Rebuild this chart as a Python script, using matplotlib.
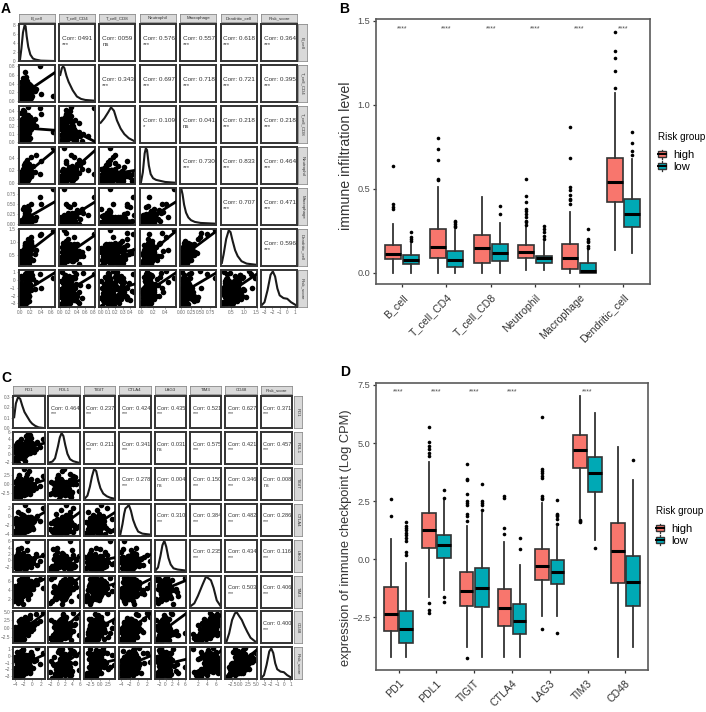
import matplotlib
matplotlib.use("Agg")
import numpy as np
import matplotlib.pyplot as plt
from matplotlib.legend_handler import HandlerBase
from matplotlib.lines import Line2D
from matplotlib.patches import Patch, Rectangle
from matplotlib.textpath import TextPath
from matplotlib.transforms import ScaledTranslation

plt.rcParams["font.family"] = ["Liberation Sans", "DejaVu Sans"]

W, H = 706, 712
DARK = "#333333"
GREY = "#4d4d4d"
HIGH = "#F8766D"
LOW = "#00A9B5"

# panel A, hand read samples: tails first, then the dense core of each cloud
imm_names = ["B_cell", "T_cell_CD4", "T_cell_CD8", "Neutrophil", "Macrophage", "Dendritic_cell", "Risk_score"]
b_cell = [.00,.02,.04,.01,.06,.03,.08,.05,.02,.10,.07,.04,.12,.09,.06,.03,.14,.11,.08,.05,.16,.13,.10,.07,.18,.15,.12,.09,.20,.06,.17,.14,.11,.22,.08,.19,.24,.13,.16,.26,.10,.21,.28,.18,.38,.30,.41,.635]
t_cd4 = [.01,.12,.05,.24,.02,.16,.08,.33,.20,.03,.27,.10,.06,.38,.14,.44,.02,.22,.30,.09,.12,.35,.18,.48,.05,.26,.41,.13,.20,.52,.08,.31,.55,.15,.24,.37,.11,.45,.19,.28,.67,.33,.22,.40,.80,.26,.15,.10]
t_cd8 = [.02,.18,.30,.08,.22,.38,.12,.03,.27,.16,.34,.06,.20,.11,.42,.25,.09,.31,.04,.18,.14,.28,.36,.07,.22,.45,.12,.19,.33,.01,.26,.15,.10,.29,.40,.05,.21,.13,.35,.24,.08,.17,.30,.11,.44,.20,.36,.12]
neutro = [.01,.06,.03,.10,.05,.14,.02,.08,.18,.04,.12,.07,.22,.09,.03,.16,.11,.25,.06,.13,.20,.08,.15,.28,.10,.05,.17,.31,.12,.22,.07,.14,.34,.19,.09,.24,.16,.37,.11,.27,.21,.42,.18,.30,.14,.45,.35,.555]
macro = [.00,.02,.05,.00,.08,.03,.12,.01,.06,.16,.02,.10,.04,.20,.07,.00,.14,.24,.03,.09,.18,.05,.28,.11,.01,.22,.32,.07,.15,.36,.04,.12,.26,.09,.41,.19,.06,.30,.44,.13,.23,.49,.10,.34,.68,.17,.51,.87]
dendri = [.13,.30,.20,.45,.25,.55,.18,.38,.65,.28,.48,.22,.72,.35,.58,.16,.42,.80,.27,.52,.62,.33,.88,.44,.20,.70,.50,.95,.36,.60,.26,.78,.46,1.02,.56,.40,.85,.66,1.10,.32,.75,1.20,.54,.92,1.28,.68,1.32,1.435]
risk_a = [-3.3,-2.6,-1.2,-3.0,-2.2,-.4,-2.8,-1.7,.5,-3.1,-2.0,-.9,-2.5,.8,-1.4,-2.9,-.2,-2.1,-1.1,-3.2,-1.8,.2,-2.4,-.7,1.0,-1.5,-2.7,.4,-1.0,-2.3,-.1,-1.9,.9,-1.3,-2.6,-.5,.6,-1.6,-2.2,.1,-.8,1.1,-1.2,-2.0,.7,-.3,-1.0,.3]

b_core = [.05,.08,.03,.11,.06,.09,.13,.04,.07,.10,.02,.12,.08,.05,.15,.09,.06,.11,.03,.14,.07,.10,.04,.13,.08,.16,.06,.11,.09,.12,.05,.15,.10,.07,.18,.13,.08,.11,.06,.17,.09,.14,.12,.20,.07,.16,.10,.13,.19,.11,.15,.08,.21,.12,.17,.14,.10,.22,.16,.13]
cd4_core = [.04,.10,.02,.14,.07,.18,.05,.22,.12,.01,.09,.16,.03,.25,.11,.06,.20,.13,.29,.08,.15,.04,.27,.10,.18,.07,.32,.12,.23,.05,.17,.09,.30,.14,.06,.21,.35,.11,.26,.08,.19,.13,.33,.16,.24,.10,.37,.20,.12,.28,.15,.34,.07,.22,.18,.31,.26,.14,.36,.23]
cd8_core = [.10,.05,.16,.22,.02,.13,.27,.08,.19,.30,.06,.14,.24,.11,.01,.17,.28,.09,.21,.04,.15,.25,.12,.07,.31,.18,.03,.23,.10,.16,.29,.13,.06,.20,.26,.09,.14,.32,.05,.18,.11,.24,.07,.15,.28,.12,.02,.19,.22,.08,.17,.10,.26,.13,.04,.21,.16,.30,.09,.14]
neu_core = [.04,.07,.02,.10,.05,.12,.03,.08,.14,.06,.09,.04,.11,.16,.07,.05,.13,.10,.18,.06,.12,.08,.15,.03,.11,.17,.09,.14,.07,.19,.10,.13,.05,.16,.12,.08,.20,.11,.15,.09,.17,.06,.13,.21,.10,.18,.14,.08,.16,.22,.12,.19,.11,.15,.20,.13,.17,.10,.21,.18]
mac_core = [.00,.03,.01,.06,.02,.09,.00,.04,.12,.01,.07,.03,.15,.00,.05,.10,.02,.18,.06,.01,.13,.04,.08,.21,.02,.11,.05,.16,.00,.09,.03,.19,.07,.12,.01,.24,.06,.14,.10,.04,.17,.08,.22,.02,.13,.05,.20,.11,.07,.26,.15,.09,.18,.03,.23,.12,.16,.06,.28,.14]
dc_core = [.25,.40,.18,.52,.30,.62,.22,.45,.72,.35,.28,.58,.20,.48,.78,.33,.42,.66,.26,.55,.38,.82,.30,.50,.68,.24,.44,.75,.36,.60,.28,.54,.88,.40,.64,.32,.47,.80,.58,.37,.70,.43,.92,.52,.34,.76,.62,.46,.84,.56,.66,.41,.96,.60,.74,.50,.86,.68,.78,.90]
risk_a_core = [-2.9,-2.2,-1.6,-2.6,-1.0,-2.4,-1.9,-.6,-2.7,-1.4,-2.1,-3.0,-1.2,-2.3,-.2,-1.7,-2.5,-.8,-2.0,-2.8,-1.3,-1.8,.1,-2.3,-1.5,-.4,-2.6,-1.1,-1.9,-2.2,-.7,-1.6,.4,-2.4,-1.0,-1.4,-2.1,-.3,-1.7,-2.7,-.9,-2.0,.2,-1.3,-1.8,-.5,-2.2,-1.1,.6,-1.5,-.6,-1.9,-1.2,-.1,-2.0,-.8,-1.4,.3,-1.0,-1.6]

imm_samples = [b_cell + b_core, t_cd4 + cd4_core, t_cd8 + cd8_core, neutro + neu_core,
               macro + mac_core, dendri + dc_core, risk_a + risk_a_core]

imm_ranges = [(0, .635), (0, .8), (0, .45), (0, .555), (0, .87), (.13, 1.435), (-3.3, 1.1)]
imm_xticks = [[0, .2, .4, .6], [0, .2, .4, .6, .8], [0, .1, .2, .3, .4], [0, .2, .4], [0, .25, .5, .75], [.5, 1, 1.5], [-3, -2, -1, 0, 1]]
imm_xlabels = [["0.0", "0.2", "0.4", "0.6"], ["0.0", "0.2", "0.4", "0.6", "0.8"], ["0.0", "0.1", "0.2", "0.3", "0.4"], ["0.0", "0.2", "0.4"], ["0.00", "0.25", "0.50", "0.75"], ["0.5", "1.0", "1.5"], ["\u22123", "\u22122", "\u22121", "0", "1"]]
imm_top_ticks = [0, 2, 4, 6, 8]
imm_corr = [
    ["0491", "0059", "0.576", "0.557", "0.618", "0.364"],
    ["0.343", "0.697", "0.718", "0.721", "0.395"],
    ["0.109", "0.041", "0.218", "0.218"],
    ["0.730", "0.833", "0.464"],
    ["0.707", "0.471"],
    ["0.596"],
]
imm_sig = [
    ["***", "ns", "***", "***", "***", "***"],
    ["***", "***", "***", "***", "***"],
    ["*", "ns", "***", "***"],
    ["***", "***", "***"],
    ["***", "***"],
    ["***"],
]
# where the fitted line leaves each lower panel on the right
imm_fit_end = [
    [.65],
    [.15, .0],
    [.52, .52, .2],
    [.55, .55, .05, .55],
    [1.4, 1.25, .7, 1.4, 1.4],
    [.9, .7, -.5, .9, .9, .7],
]
imm_dens_x = [
    [0, .03, .06, .09, .11, .13, .16, .2, .25, .3, .4, .635],
    [0, .04, .07, .1, .15, .2, .3, .4, .5, .6, .8],
    [0, .05, .1, .14, .18, .22, .27, .32, .38, .45],
    [0, .03, .06, .08, .1, .13, .16, .2, .25, .3, .4, .555],
    [0, .03, .07, .12, .18, .25, .35, .5, .87],
    [.13, .2, .3, .4, .47, .55, .65, .75, .9, 1.1, 1.435],
    [-3.3, -3, -2.6, -2.2, -1.9, -1.6, -1.3, -1, -.5, 0, .5, 1.1],
]
imm_dens_h = [
    [0, .35, .8, 1, .98, .7, .4, .18, .07, .04, .01, 0],
    [.75, .95, 1, .95, .72, .55, .3, .12, .05, .02, 0],
    [.55, .68, .85, 1, .9, .62, .38, .22, .1, .02],
    [.02, .3, .85, 1, .95, .5, .25, .13, .08, .06, .02, 0],
    [1, .85, .55, .32, .18, .1, .05, .02, 0],
    [.05, .3, .75, 1, .95, .7, .42, .25, .1, .03, 0],
    [.03, .1, .45, .9, 1, .85, .5, .3, .22, .2, .1, .02],
]

# panel C, hand read samples
chk_names = ["PD1", "PDL1", "TIGIT", "CTLA4", "LAG3", "TIM3", "CD48", "Risk_score"]
pd1_s = [-4.2,-3.9,-3.6,-4.1,-3.3,-3.8,-3.0,-3.5,-4.0,-2.8,-3.2,-3.7,-2.6,-3.4,-2.9,-2.4,-3.1,-2.2,-3.6,-2.7,-2.0,-3.0,-2.5,-1.8,-3.3,-2.3,-1.6,-2.8,-2.1,-1.4,-2.6,-1.9,-1.2,-2.2,-1.0,-1.7,-0.8,-2.4,-1.3,-0.6,-0.2,-1.0,0.3,-0.5,0.9,1.2,1.85,2.6]
pdl1_s = [-1.5,0.6,-0.6,2.3,-2.3,1.2,0.2,3.0,-1.0,1.8,-0.3,2.6,0.8,-1.3,3.6,1.4,0.1,2.1,-0.7,4.2,0.5,2.9,-0.2,1.7,3.4,0.9,-1.8,2.4,1.1,4.8,-0.4,1.9,3.2,0.3,5.7,2.2,1.0,-1.0,3.8,1.5,4.5,0.7,2.7,5.05,1.3,3.3,2.0,4.0]
tigit_s = [-2.5,-3.6,-1.0,-1.6,-2.9,0.8,-4.2,-0.4,-2.1,-3.2,1.6,-1.4,-2.6,0.2,-3.8,-0.8,2.4,-1.9,-3.0,-0.1,1.1,-2.3,-1.2,4.1,-3.4,-0.6,0.5,-1.8,-2.7,1.9,-0.2,-3.1,2.8,-1.1,-2.0,0.4,3.4,-1.5,-2.4,-0.5,1.3,-0.9,-1.7,0.0,-1.3,0.9,-0.7,2.1]
ctla4_s = [-3.4,-4.2,-2.4,-1.6,-3.0,-0.7,-3.8,-2.0,-1.0,-2.8,-4.0,-0.3,-2.2,-3.5,-1.3,-2.7,-3.2,0.3,-1.8,-3.6,-1.1,-2.5,-0.5,-3.1,1.1,-2.0,-1.5,-3.7,-0.9,-2.6,0.6,-1.9,-3.3,-1.2,-2.3,2.7,-0.6,-2.9,-1.7,-0.1,-2.1,1.4,-1.4,-2.7,-0.4,0.1,-1.0,2.0]
lag3_s = [-1.6,-0.6,-3.0,0.4,-2.4,-0.2,1.2,-1.1,-2.0,0.0,2.6,-0.8,-1.4,3.6,-2.2,0.7,-0.4,-1.8,1.7,-1.0,0.2,-2.6,3.9,-0.7,-1.3,0.9,-3.1,-0.1,2.2,-1.6,0.5,-0.9,6.1,-2.0,1.4,-0.3,-1.2,0.3,3.2,-0.5,-1.9,1.0,-0.8,0.1,2.0,-1.5,-0.2,1.6]
tim3_s = [1.7,3.0,2.2,3.8,1.2,4.5,2.6,3.4,5.0,2.0,4.1,2.9,5.4,3.6,1.6,4.7,3.2,5.8,2.4,4.3,3.7,6.2,2.8,5.2,4.0,3.1,6.5,4.6,.9,5.6,3.5,4.9,6.8,4.2,2.7,5.5,3.9,7.0,4.4,5.1,6.0,3.3,5.7,4.8,6.3,5.3,6.6,4.6]
cd48_s = [-4.2,-3.2,-3.8,-1.6,-2.8,-0.6,-3.5,-2.2,0.4,-3.0,-1.2,-2.5,0.9,-1.9,-3.6,-0.2,-2.7,1.5,-1.4,-0.8,-3.3,0.6,-2.0,2.0,-1.0,-2.4,2.5,0.1,-1.7,1.2,-0.5,3.0,-1.3,0.8,-2.1,3.5,0.2,1.8,-0.9,4.0,1.0,2.8,-0.3,3.3,4.5,1.6,2.3,4.8]
risk_c = [-3.3,-2.6,-3.0,-1.8,-2.4,-.8,-3.1,-2.1,-.2,-2.8,-1.5,-2.3,.3,-1.2,-2.9,-.5,-2.0,-1.0,-2.7,.7,-1.7,-.1,-2.5,-1.3,.5,-2.2,-.7,-1.9,1.0,-1.1,-2.6,-.4,-1.6,.9,-2.1,-.9,.2,-1.4,-2.3,-.3,.6,-1.0,-1.8,.1,-.6,1.1,-1.2,.4]

pd1_core = [-3.8,-3.2,-2.7,-3.5,-2.2,-3.0,-1.7,-3.6,-2.5,-1.2,-3.3,-2.0,-2.8,-1.5,-3.9,-2.4,-.9,-3.1,-1.9,-2.6,-1.1,-3.4,-2.1,-.6,-2.9,-1.6,-3.7,-2.3,-.4,-1.3,-3.0,-1.8,-2.6,-.8,-3.5,-2.0,-1.0,-2.8,-.2,-1.5,-3.2,-2.2,-.7,-1.9,-2.7,-1.2,0.0,-2.4,-1.7,-.5,-3.0,-1.4,-2.1,.2,-.9,-2.5,-1.1,.4,-1.8,-.3]
pdl1_core = [-.8,.4,1.4,-.2,.9,2.2,.1,1.1,2.8,.6,-.5,1.7,.3,2.4,1.0,-1.1,1.5,3.1,.7,1.9,.0,1.2,2.6,.5,1.6,-.4,2.1,.9,3.4,1.3,.2,1.8,.8,2.9,-.1,1.4,2.3,.6,1.1,3.6,.4,2.0,1.0,2.7,1.6,.7,3.0,1.2,2.2,.3,1.7,.9,2.5,1.5,3.3,1.1,2.0,.5,2.8,1.8]
tigit_core = [-2.8,-1.2,-.3,-2.2,-1.6,.2,-3.0,-.9,-2.4,-1.4,.5,-2.0,-.6,-2.7,-1.1,-.1,-1.8,-3.2,-.7,-2.3,-1.3,.8,-2.6,-.4,-1.5,-2.1,.1,-1.0,-2.9,-.5,-1.7,-.2,1.2,-2.5,-1.2,-.8,-2.0,.4,-1.4,-2.8,-.6,-1.9,-.1,-2.3,-1.0,.6,-1.5,-2.6,-.3,-1.1,-1.8,.0,-2.2,-.7,.9,-1.3,-2.4,-.4,-1.6,.3]
ctla4_core = [-3.6,-2.4,-3.0,-1.4,-2.8,-3.9,-1.8,-2.2,-3.3,-1.0,-2.6,-3.7,-1.6,-2.1,-.6,-3.1,-2.5,-1.2,-3.5,-1.9,-2.3,-.8,-3.0,-1.5,-2.7,-3.4,-1.1,-2.0,-.3,-2.9,-1.7,-3.2,-2.4,-.9,-2.1,-3.6,-1.3,-2.6,-.1,-1.9,-2.8,-1.0,-3.1,-2.2,-1.6,-.5,-2.5,-3.3,-1.2,-2.0,-.7,-2.7,-1.5,-3.0,-.2,-2.3,-1.8,-1.1,.1,-2.4]
lag3_core = [-1.4,.2,-2.1,-.5,-.9,.8,-1.7,.0,-1.2,1.2,-.3,-2.3,.5,-.8,-1.5,.3,-.1,-1.9,1.0,-.6,-1.1,.1,-2.0,.6,-.4,-1.3,1.4,-.7,.4,-1.6,-.2,.9,-1.0,-1.8,.2,-.5,1.1,-1.2,-.1,-2.2,.7,-.9,.3,-1.4,.0,1.5,-.6,-1.7,.5,-.3,-1.1,.8,-.7,.2,-1.5,1.3,-.4,.6,-1.0,.1]
tim3_core = [2.4,3.2,1.8,4.0,2.8,3.5,4.6,2.2,3.8,5.1,3.0,4.3,2.6,5.5,3.4,4.8,2.0,4.1,5.8,3.6,2.9,4.5,5.2,3.3,6.0,3.9,2.5,4.7,5.4,3.1,4.2,6.2,3.7,5.0,2.7,4.4,5.7,3.5,4.9,6.4,4.0,3.0,5.3,4.6,5.9,3.8,5.1,4.3,6.1,4.8,5.5,3.6,5.0,4.2,5.8,4.7,6.3,5.2,4.5,5.6]
cd48_core = [-3.0,-1.8,-2.4,-.9,-3.3,-1.2,-.2,-2.7,-1.5,.5,-2.1,-.6,-3.1,.1,-1.0,-2.3,.9,-1.7,-.4,-2.6,1.3,-.8,-2.0,.3,-1.4,1.7,-.1,-2.8,.7,-1.1,2.1,-1.9,-.3,1.1,-2.2,.4,-1.3,2.5,-.7,.9,-1.6,1.5,.0,-.5,2.9,-1.0,.6,1.9,-.2,1.2,2.3,.2,-.6,1.6,.8,-1.2,2.7,1.0,.1,1.4]
risk_c_core = [-2.7,-2.0,-2.4,-1.2,-2.9,-.6,-1.7,-2.2,-.2,-1.5,-2.6,-.9,-1.9,.2,-2.3,-1.3,-.5,-2.8,-1.8,-1.0,-2.1,.4,-1.5,-2.5,-.8,-1.9,-.3,-1.2,-2.4,.0,-1.6,-2.0,-.7,-1.1,.6,-2.2,-1.4,-.4,-1.8,-2.6,-1.0,.3,-1.7,-2.1,-.6,-1.3,.1,-2.0,-.9,-1.5,-.2,-1.6,-2.3,-.5,-1.1,.5,-1.9,-.7,-1.4,-.1]

chk_samples = [pd1_s + pd1_core, pdl1_s + pdl1_core, tigit_s + tigit_core, ctla4_s + ctla4_core,
               lag3_s + lag3_core, tim3_s + tim3_core, cd48_s + cd48_core, risk_c + risk_c_core]

chk_ranges = [(-4.2, 2.6), (-2.3, 5.7), (-4.2, 4.1), (-4.2, 2.7), (-3.1, 6.1), (.5, 7), (-4.2, 4.8), (-3.3, 1.1)]
chk_xticks = [[-4, -2, 0, 2], [-2, 0, 2, 4, 6], [-2.5, 0, 2.5], [-4, -2, 0, 2], [-2, 0, 2, 4, 6], [2, 4, 6], [-2.5, 0, 2.5, 5], [-3, -2, -1, 0, 1]]
chk_xlabels = [["\u22124", "\u22122", "0", "2"], ["\u22122", "0", "2", "4", "6"], ["\u22122.5", "0.0", "2.5"], ["\u22124", "\u22122", "0", "2"], ["\u22122", "0", "2", "4", "6"], ["2", "4", "6"], ["\u22122.5", "0.0", "2.5", "5.0"], ["\u22123", "\u22122", "\u22121", "0", "1"]]
chk_top_ticks = [0, .1, .2, .3]
chk_corr = [
    ["0.464", "0.237", "0.424", "0.435", "0.521", "0.627", "0.371"],
    ["0.211", "0.341", "0.031", "0.575", "0.421", "0.457"],
    ["0.278", "0.004", "0.150", "0.346", "0.008"],
    ["0.310", "0.384", "0.482", "0.286"],
    ["0.235", "0.434", "0.116"],
    ["0.503", "0.406"],
    ["0.400"],
]
chk_sig = [
    ["***"] * 7,
    ["***", "***", "ns", "***", "***", "***"],
    ["***", "ns", "***", "***", "ns"],
    ["***"] * 4,
    ["***"] * 3,
    ["***"] * 2,
    ["***"],
]
chk_fit_end = [
    [3.0],
    [1.0, 1.0],
    [1.0, 1.0, 1.0],
    [1.5, 1.0, .9, 1.8],
    [6.5, 6.8, 5.5, 6.5, 6.2],
    [4.5, 4.5, 3.0, 4.5, 4.5, 4.2],
    [.2, .5, -.6, .0, -.5, .9, .9],
]
chk_dens_x = [
    [-4.2, -3.8, -3.3, -2.8, -2.3, -1.8, -1.2, -.5, 0, .7, 1.5, 2.6],
    [-2.3, -1.5, -.8, 0, .5, 1, 1.5, 2, 2.6, 3.3, 4.2, 5.7],
    [-4.2, -3.5, -2.8, -2.2, -1.6, -1, -.4, .2, 1, 2, 3, 4.1],
    [-4.2, -3.7, -3.3, -3, -2.6, -2.2, -1.7, -1.2, -.6, 0, 1, 2.7],
    [-3.1, -2.4, -1.6, -1, -.4, .2, .9, 1.6, 2.5, 3.8, 6.1],
    [.5, 1.2, 2, 3, 3.8, 4.3, 4.9, 5.5, 6.2, 7],
    [-4.2, -3.4, -2.5, -1.6, -1, -.3, .5, 1.3, 2.2, 3.2, 4.8],
    [-3.3, -3, -2.6, -2.2, -1.9, -1.6, -1.3, -1, -.5, 0, .5, 1.1],
]
chk_dens_h = [
    [.35, .8, 1, .95, .72, .52, .38, .22, .14, .07, .02, 0],
    [.01, .04, .15, .55, .85, 1, .9, .6, .3, .12, .05, 0],
    [.01, .1, .4, .75, 1, .93, .6, .35, .17, .08, .03, 0],
    [.01, .35, .7, .88, .93, 1, .8, .5, .27, .1, .03, 0],
    [.01, .1, .5, .85, 1, .8, .42, .2, .07, .03, 0],
    [.02, .1, .35, .72, 1, .95, .88, .62, .2, .02],
    [.03, .3, .75, .98, 1, .88, .75, .55, .35, .15, .01],
    [.03, .1, .45, .9, 1, .85, .5, .3, .22, .2, .1, .02],
]

# panel B
cell_names = ["B_cell", "T_cell_CD4", "T_cell_CD8", "Neutrophil", "Macrophage", "Dendritic_cell"]
cell_high_q1 = [.08, .085, .06, .09, .024, .42]
cell_high_med = [.113, .155, .145, .125, .085, .54]
cell_high_q3 = [.165, .262, .222, .163, .172, .68]
cell_high_lo = [0, 0, 0, .015, 0, .135]
cell_high_hi = [.29, .51, .448, .27, .36, 1.067]
cell_high_out = [[.38, .39, .41, .635], [.55, .555, .67, .735, .80], [], [.285, .3, .31, .33, .35, .37, .38, .42, .455, .555], [.41, .43, .44, .46, .49, .51, .68, .87], [1.1, 1.2, 1.28, 1.32, 1.435]]
cell_low_q1 = [.05, .035, .067, .055, 0, .27]
cell_low_med = [.075, .075, .12, .085, .01, .35]
cell_low_q3 = [.105, .13, .172, .102, .055, .437]
cell_low_lo = [0, 0, 0, .015, 0, .12]
cell_low_hi = [.17, .255, .298, .185, .135, .675]
cell_low_out = [[.19, .2, .21, .245], [.27, .28, .29, .30, .31], [.35, .395], [.2, .22, .245, .26, .28], [.15, .16, .18, .19, .2, .26], [.70, .725, .77, .84]]
cell_stars = ["****"] * 6

# panel D
gene_names = ["PD1", "PDL1", "TIGIT", "CTLA4", "LAG3", "TIM3", "CD48"]
gene_high_q1 = [-3.09, .5, -2.0, -2.87, -.89, 3.92, -1.0]
gene_high_med = [-2.34, 1.24, -1.35, -2.11, -.27, 4.71, .36]
gene_high_q3 = [-1.18, 1.98, -.56, -1.29, .45, 5.36, 1.57]
gene_high_lo = [-4.2, -1.6, -3.76, -4.2, -2.43, 1.77, -4.2]
gene_high_hi = [.88, 4.17, 1.44, .76, 2.44, 7.04, 4.83]
gene_high_out = [[1.85, 2.6], [-2.3, -2.2, -1.9, 4.45, 4.55, 4.75, 4.85, 5.05, 5.7], [-4.25, 1.65, 1.85, 1.95, 2.35, 2.4, 2.5, 2.8, 3.4, 3.45, 4.1], [1.1, 1.35, 2.65, 2.7], [-3.0, 2.6, 2.65, 2.7, 3.5, 3.6, 3.7, 3.8, 3.9, 6.1], [1.6, 1.65, 1.7], []]
gene_low_q1 = [-3.62, .04, -2.04, -3.23, -1.05, 2.89, -2.01]
gene_low_med = [-3.0, .6, -1.24, -2.66, -.55, 3.72, -.98]
gene_low_q3 = [-2.23, 1.06, -.39, -1.94, -.03, 4.41, .16]
gene_low_lo = [-4.2, -1.32, -4.2, -4.2, -2.43, .83, -3.76]
gene_low_hi = [-.17, 2.55, 2.0, -.24, 1.4, 6.29, 3.39]
gene_low_out = [[.2, .3, .8, .9, 1.05, 1.15, 1.25, 1.35, 1.45, 1.6], [-1.85, -1.6, 2.65, 3.0], [2.1, 2.35, 2.4, 2.5, 3.25], [.45, .93], [-3.15, 1.5, 1.75, 1.85, 1.9, 1.95, 2.55], [.48], [4.25]]
gene_stars = ["****", "****", "****", "****", "", "****", ""]


def px_axes(fig, x0, y0, x1, y1, **kw):
    return fig.add_axes([x0 / W, 1 - y1 / H, (x1 - x0) / W, (y1 - y0) / H], **kw)


def strip(fig, x0, y0, x1, y1, label, size, rotation=0):
    ax = px_axes(fig, x0, y0, x1, y1, facecolor="#D9D9D9")
    ax.set_xticks([])
    ax.set_yticks([])
    for s in ax.spines.values():
        s.set_color("#8c8c8c")
        s.set_linewidth(0.6)
    ax.text(.5, .5, label, transform=ax.transAxes, ha="center", va="center",
            fontsize=size, color=DARK, rotation=rotation)


def padded(r, frac=.04):
    d = (r[1] - r[0]) * frac
    return r[0] - d, r[1] + d


def pairs(fig, names, samples, ranges, xticks, xlabels, top_ticks, corr, sig, fit_end, dens_x, dens_h,
          x0, dx, pw, y0, dy, ph, tick_size, corr_size, msize):
    n = len(names)
    for i in range(n):
        strip(fig, x0 + i * dx, y0 - 10, x0 + i * dx + pw, y0 - 2, names[i], 3.2)
        strip(fig, x0 + (n - 1) * dx + pw + 1.5, y0 + i * dy, x0 + (n - 1) * dx + pw + 10,
              y0 + i * dy + ph, names[i], 3.2, rotation=-90)
    for r in range(n):
        for c in range(n):
            ax = px_axes(fig, x0 + c * dx, y0 + r * dy, x0 + c * dx + pw, y0 + r * dy + ph)
            for s in ax.spines.values():
                s.set_color(DARK)
                s.set_linewidth(1.4)
            ax.set_xlim(padded(ranges[c]))
            if r == 0:
                ylo, yhi = 0, top_ticks[-1] * 1.04
            else:
                ylo, yhi = padded(ranges[r])
            ax.set_ylim(ylo, yhi)
            if r == c:
                lo = 0 if r == 0 else ranges[r][0]
                hi = top_ticks[-1] if r == 0 else ranges[r][1]
                ax.plot(dens_x[c], lo + np.array(dens_h[c]) * (hi - lo), color="#1a1a1a", lw=1.5)
            elif r > c:
                ax.scatter(samples[c], samples[r], s=msize, color="black", linewidths=0, zorder=2)
                ax.plot([np.mean(samples[c]), padded(ranges[c])[1]], [np.mean(samples[r]), fit_end[r - 1][c]],
                        color="black", lw=2, zorder=3)
            else:
                ax.text(.08, .62, "Corr: " + corr[r][c - r - 1], transform=ax.transAxes, fontsize=corr_size,
                        color=DARK, va="center", clip_on=True)
                ax.text(.08, .44, sig[r][c - r - 1], transform=ax.transAxes, fontsize=corr_size - .3,
                        color=DARK, va="center", clip_on=True)
            ax.set_xticks(xticks[c] if r == n - 1 else [])
            if r == n - 1:
                ax.set_xticklabels(xlabels[c])
            if c == 0:
                if r == 0:
                    ax.set_yticks(top_ticks)
                else:
                    ax.set_yticks(xticks[r])
                    ax.set_yticklabels(xlabels[r])
            else:
                ax.set_yticks([])
            ax.tick_params(length=1.2, width=.4, pad=.8, labelsize=tick_size, colors="#6a6a6a")


class BoxKey(HandlerBase):
    def create_artists(self, legend, orig, xd, yd, w, h, fontsize, trans):
        mid = h / 2 - yd
        whisker = Line2D([w / 2 - xd] * 2, [-yd - 1.2, h - yd + 1.2], color=DARK, lw=.9, transform=trans)
        box = Rectangle((-xd, -yd), w, h, facecolor=orig.get_facecolor(), edgecolor=DARK, lw=1, transform=trans)
        med = Line2D([-xd, w - xd], [mid, mid], color="black", lw=1.4, transform=trans)
        return [whisker, box, med]


def boxes(ax, names, hq1, hmed, hq3, hlo, hhi, hout, lq1, lmed, lq3, llo, lhi, lout, stars, star_y, legend_top):
    n = len(names)
    for off, col, q1, med, q3, lo, hi, out in [(-.2, HIGH, hq1, hmed, hq3, hlo, hhi, hout),
                                               (.2, LOW, lq1, lmed, lq3, llo, lhi, lout)]:
        stats = [dict(q1=q1[i], med=med[i], q3=q3[i], whislo=lo[i], whishi=hi[i], fliers=out[i]) for i in range(n)]
        ax.bxp(stats, positions=np.arange(n) + off, widths=.36, patch_artist=True, showcaps=False,
               boxprops=dict(facecolor=col, edgecolor=DARK, lw=1.2),
               medianprops=dict(color="black", lw=2.2),
               whiskerprops=dict(color=DARK, lw=1.3),
               flierprops=dict(marker="o", markerfacecolor="black", markeredgecolor="black", markersize=2.6, mew=0),
               manage_ticks=False)
    for i, st in enumerate(stars):
        ax.text(i, star_y, st, ha="center", va="center", fontsize=5, color=GREY)
    ax.set_xlim(-.6, n - .4)
    ax.set_xticks(np.arange(n))
    ax.set_xticklabels(names, rotation=45, ha="right", rotation_mode="anchor", fontsize=7.6, color=DARK)
    # labels sit a bit past the tick, about a third of their length
    for lab, name in zip(ax.get_xticklabels(), names):
        w = TextPath((0, 0), name, size=7.6, prop="Liberation Sans").get_extents().width
        shift = .3 * w * .707 / 72
        lab.set_transform(lab.get_transform() + ScaledTranslation(shift, shift, ax.figure.dpi_scale_trans))
    for s in ax.spines.values():
        s.set_color("#5a5a5a")
        s.set_linewidth(1.2)
    ax.tick_params(axis="both", length=2.5, width=.9, color=DARK)
    ax.tick_params(axis="y", labelsize=6.6, labelcolor=GREY, pad=1.5)
    leg = ax.legend(handles=[Patch(facecolor=HIGH, label="high"), Patch(facecolor=LOW, label="low")],
                    handler_map={Patch: BoxKey()}, title="Risk group", frameon=False, fontsize=8,
                    title_fontsize=7.1, alignment="left", handlelength=.75, handleheight=.45,
                    handletextpad=.65, labelspacing=.15, borderpad=0, borderaxespad=0,
                    loc="upper left", bbox_transform=ax.figure.transFigure,
                    bbox_to_anchor=(ax.get_position().x1 + 8 / W, 1 - legend_top / H))
    leg._legend_box.sep = 6


fig = plt.figure(figsize=(W / 100, H / 100), dpi=100)

pairs(fig, imm_names, imm_samples, imm_ranges, imm_xticks, imm_xlabels, imm_top_ticks, imm_corr, imm_sig,
      imm_fit_end, imm_dens_x, imm_dens_h, 18.5, 40.4, 36, 24, 41, 37, 3.4, 4.6, 16)
pairs(fig, chk_names, chk_samples, chk_ranges, chk_xticks, chk_xlabels, chk_top_ticks, chk_corr, chk_sig,
      chk_fit_end, chk_dens_x, chk_dens_h, 13, 35.4, 31.5, 396, 35.9, 32, 3.4, 4.1, 16)

ax_b = px_axes(fig, 375.7, 19, 650, 284)
ax_b.set_ylim(-.067, 1.51)
ax_b.set_yticks([0, .5, 1, 1.5])
ax_b.set_yticklabels(["0.0", "0.5", "1.0", "1.5"])
boxes(ax_b, cell_names, cell_high_q1, cell_high_med, cell_high_q3, cell_high_lo, cell_high_hi, cell_high_out,
      cell_low_q1, cell_low_med, cell_low_q3, cell_low_lo, cell_low_hi, cell_low_out, cell_stars, 1.45, 132)
ax_b.set_ylabel("immune infiltration level", fontsize=10.2, color=DARK, labelpad=3, y=.483)

ax_d = px_axes(fig, 376, 383, 648, 670)
ax_d.set_ylim(-4.76, 7.58)
ax_d.set_yticks([-2.5, 0, 2.5, 5, 7.5])
ax_d.set_yticklabels(["\u22122.5", "0.0", "2.5", "5.0", "7.5"])
boxes(ax_d, gene_names, gene_high_q1, gene_high_med, gene_high_q3, gene_high_lo, gene_high_hi, gene_high_out,
      gene_low_q1, gene_low_med, gene_low_q3, gene_low_lo, gene_low_hi, gene_low_out, gene_stars, 7.2, 506)
ax_d.set_ylabel("expression of immune checkpoint (Log CPM)", fontsize=9.3, color=DARK, labelpad=0, y=.46)

for lab, x, y in [("A", 1, 2), ("B", 339, 2), ("C", 1, 371), ("D", 340, 365)]:
    fig.text(x / W, 1 - y / H, lab, fontsize=10, fontweight="bold", va="top", color="black")

fig.savefig("out.png", dpi=100)
